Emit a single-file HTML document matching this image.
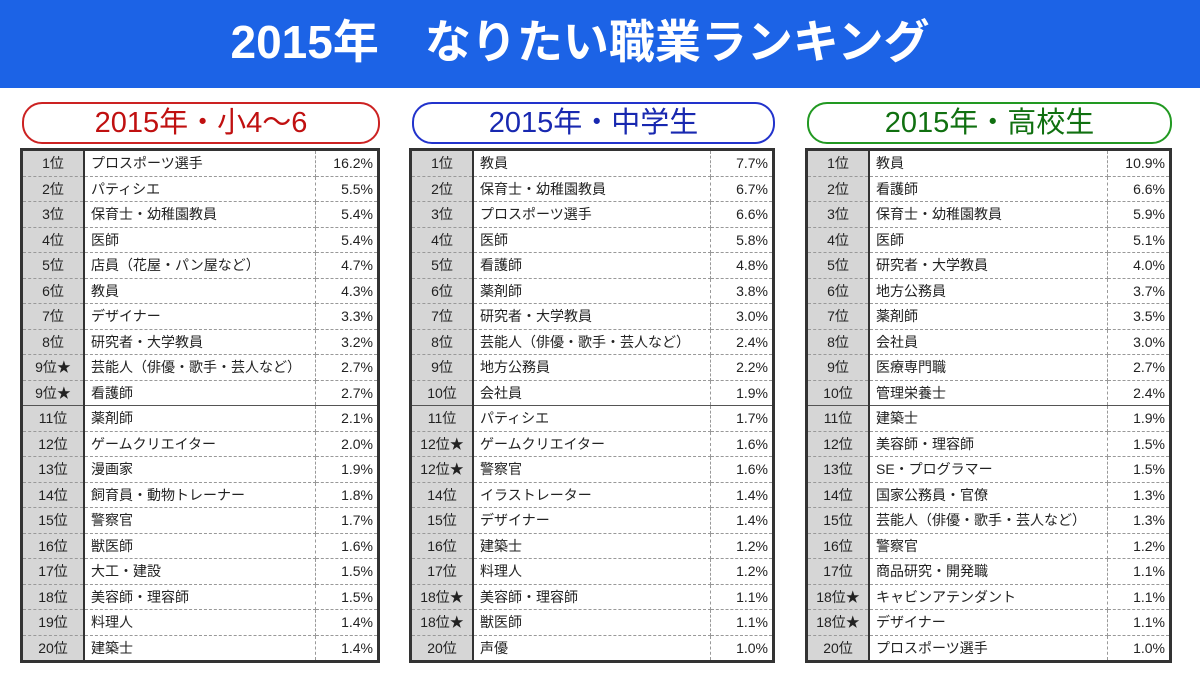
<!DOCTYPE html>
<html><head><meta charset="utf-8"><style>
body{margin:0;width:1200px;height:675px;background:#fff;position:relative;overflow:hidden;font-family:"Liberation Sans","Noto Sans CJK JP",sans-serif}
.hdr{position:absolute;left:0;top:0;width:1200px;height:88px;background:#1c63e6;color:#fff;font-weight:bold;font-size:46px;line-height:84px;text-align:center;text-indent:-40px}
.pill{position:absolute;top:102px;height:38px;border:2px solid;border-radius:20px;text-align:center;font-size:29px;line-height:38px}
table{position:absolute;top:148px;border-collapse:collapse;border:3px solid #333;font-size:14px;color:#222}
td{height:24.5px;padding:0;border-bottom:1px dashed #999}
td.r{background:#d6d6d6;text-align:center;border-right:2px solid #333;width:60px}
td.n{padding-left:6px;border-right:1px dashed #999}
td.p{text-align:right;padding-right:4px;width:57px}
tr.s td{border-bottom:1.5px solid #555}
</style></head><body>
<div class="hdr">2015年　なりたい職業ランキング</div>
<div class="pill" style="left:22px;width:354px;border-color:#c22;color:#c01010">2015年・小4～6</div>
<div class="pill" style="left:412px;width:359px;border-color:#23c;color:#1828b0">2015年・中学生</div>
<div class="pill" style="left:807px;width:361px;border-color:#292;color:#107010">2015年・高校生</div>

<table style="left:20px;width:360px">
<tr><td class="r">1位</td><td class="n">プロスポーツ選手</td><td class="p">16.2%</td></tr>
<tr><td class="r">2位</td><td class="n">パティシエ</td><td class="p">5.5%</td></tr>
<tr><td class="r">3位</td><td class="n">保育士・幼稚園教員</td><td class="p">5.4%</td></tr>
<tr><td class="r">4位</td><td class="n">医師</td><td class="p">5.4%</td></tr>
<tr><td class="r">5位</td><td class="n">店員（花屋・パン屋など）</td><td class="p">4.7%</td></tr>
<tr><td class="r">6位</td><td class="n">教員</td><td class="p">4.3%</td></tr>
<tr><td class="r">7位</td><td class="n">デザイナー</td><td class="p">3.3%</td></tr>
<tr><td class="r">8位</td><td class="n">研究者・大学教員</td><td class="p">3.2%</td></tr>
<tr><td class="r">9位★</td><td class="n">芸能人（俳優・歌手・芸人など）</td><td class="p">2.7%</td></tr>
<tr class="s"><td class="r">9位★</td><td class="n">看護師</td><td class="p">2.7%</td></tr>
<tr><td class="r">11位</td><td class="n">薬剤師</td><td class="p">2.1%</td></tr>
<tr><td class="r">12位</td><td class="n">ゲームクリエイター</td><td class="p">2.0%</td></tr>
<tr><td class="r">13位</td><td class="n">漫画家</td><td class="p">1.9%</td></tr>
<tr><td class="r">14位</td><td class="n">飼育員・動物トレーナー</td><td class="p">1.8%</td></tr>
<tr><td class="r">15位</td><td class="n">警察官</td><td class="p">1.7%</td></tr>
<tr><td class="r">16位</td><td class="n">獣医師</td><td class="p">1.6%</td></tr>
<tr><td class="r">17位</td><td class="n">大工・建設</td><td class="p">1.5%</td></tr>
<tr><td class="r">18位</td><td class="n">美容師・理容師</td><td class="p">1.5%</td></tr>
<tr><td class="r">19位</td><td class="n">料理人</td><td class="p">1.4%</td></tr>
<tr><td class="r">20位</td><td class="n">建築士</td><td class="p">1.4%</td></tr>
</table>

<table style="left:409px;width:366px">
<tr><td class="r">1位</td><td class="n">教員</td><td class="p">7.7%</td></tr>
<tr><td class="r">2位</td><td class="n">保育士・幼稚園教員</td><td class="p">6.7%</td></tr>
<tr><td class="r">3位</td><td class="n">プロスポーツ選手</td><td class="p">6.6%</td></tr>
<tr><td class="r">4位</td><td class="n">医師</td><td class="p">5.8%</td></tr>
<tr><td class="r">5位</td><td class="n">看護師</td><td class="p">4.8%</td></tr>
<tr><td class="r">6位</td><td class="n">薬剤師</td><td class="p">3.8%</td></tr>
<tr><td class="r">7位</td><td class="n">研究者・大学教員</td><td class="p">3.0%</td></tr>
<tr><td class="r">8位</td><td class="n">芸能人（俳優・歌手・芸人など）</td><td class="p">2.4%</td></tr>
<tr><td class="r">9位</td><td class="n">地方公務員</td><td class="p">2.2%</td></tr>
<tr class="s"><td class="r">10位</td><td class="n">会社員</td><td class="p">1.9%</td></tr>
<tr><td class="r">11位</td><td class="n">パティシエ</td><td class="p">1.7%</td></tr>
<tr><td class="r">12位★</td><td class="n">ゲームクリエイター</td><td class="p">1.6%</td></tr>
<tr><td class="r">12位★</td><td class="n">警察官</td><td class="p">1.6%</td></tr>
<tr><td class="r">14位</td><td class="n">イラストレーター</td><td class="p">1.4%</td></tr>
<tr><td class="r">15位</td><td class="n">デザイナー</td><td class="p">1.4%</td></tr>
<tr><td class="r">16位</td><td class="n">建築士</td><td class="p">1.2%</td></tr>
<tr><td class="r">17位</td><td class="n">料理人</td><td class="p">1.2%</td></tr>
<tr><td class="r">18位★</td><td class="n">美容師・理容師</td><td class="p">1.1%</td></tr>
<tr><td class="r">18位★</td><td class="n">獣医師</td><td class="p">1.1%</td></tr>
<tr><td class="r">20位</td><td class="n">声優</td><td class="p">1.0%</td></tr>
</table>

<table style="left:805px;width:367px">
<tr><td class="r">1位</td><td class="n">教員</td><td class="p">10.9%</td></tr>
<tr><td class="r">2位</td><td class="n">看護師</td><td class="p">6.6%</td></tr>
<tr><td class="r">3位</td><td class="n">保育士・幼稚園教員</td><td class="p">5.9%</td></tr>
<tr><td class="r">4位</td><td class="n">医師</td><td class="p">5.1%</td></tr>
<tr><td class="r">5位</td><td class="n">研究者・大学教員</td><td class="p">4.0%</td></tr>
<tr><td class="r">6位</td><td class="n">地方公務員</td><td class="p">3.7%</td></tr>
<tr><td class="r">7位</td><td class="n">薬剤師</td><td class="p">3.5%</td></tr>
<tr><td class="r">8位</td><td class="n">会社員</td><td class="p">3.0%</td></tr>
<tr><td class="r">9位</td><td class="n">医療専門職</td><td class="p">2.7%</td></tr>
<tr class="s"><td class="r">10位</td><td class="n">管理栄養士</td><td class="p">2.4%</td></tr>
<tr><td class="r">11位</td><td class="n">建築士</td><td class="p">1.9%</td></tr>
<tr><td class="r">12位</td><td class="n">美容師・理容師</td><td class="p">1.5%</td></tr>
<tr><td class="r">13位</td><td class="n">SE・プログラマー</td><td class="p">1.5%</td></tr>
<tr><td class="r">14位</td><td class="n">国家公務員・官僚</td><td class="p">1.3%</td></tr>
<tr><td class="r">15位</td><td class="n">芸能人（俳優・歌手・芸人など）</td><td class="p">1.3%</td></tr>
<tr><td class="r">16位</td><td class="n">警察官</td><td class="p">1.2%</td></tr>
<tr><td class="r">17位</td><td class="n">商品研究・開発職</td><td class="p">1.1%</td></tr>
<tr><td class="r">18位★</td><td class="n">キャビンアテンダント</td><td class="p">1.1%</td></tr>
<tr><td class="r">18位★</td><td class="n">デザイナー</td><td class="p">1.1%</td></tr>
<tr><td class="r">20位</td><td class="n">プロスポーツ選手</td><td class="p">1.0%</td></tr>
</table>
</body></html>
